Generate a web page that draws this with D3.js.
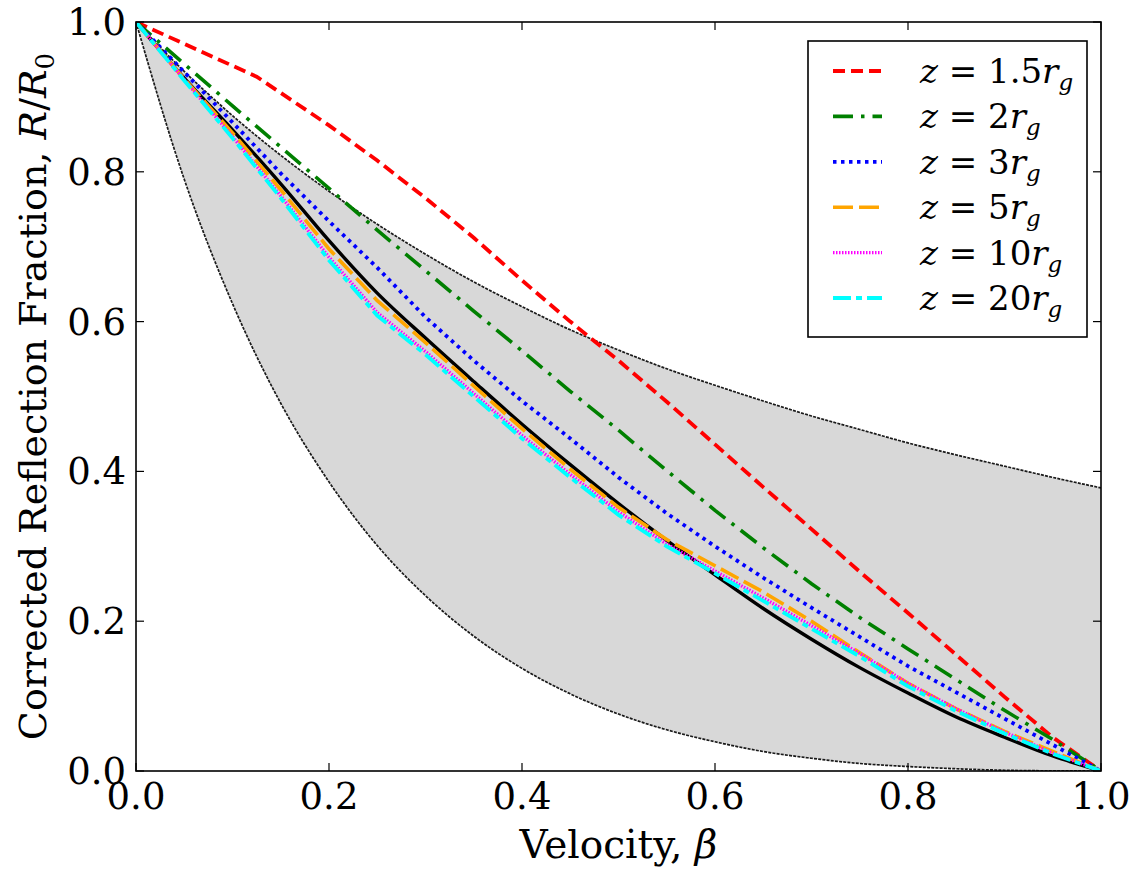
<!DOCTYPE html>
<html>
<head>
<meta charset="utf-8">
<script src="https://cdn.jsdelivr.net/npm/d3@7"></script>
<style>
  body { margin: 0; background: #fff; }
  svg { display: block; }
  text { font-family: "DejaVu Serif", serif; fill: #000; }
</style>
</head>
<body>
<svg id="chart" width="1147" height="871"></svg>
<script>
// ---- data ----
const beta = [0, 0.05, 0.1, 0.15, 0.2, 0.25, 0.3, 0.35, 0.4, 0.45, 0.5, 0.55, 0.6, 0.65, 0.7, 0.75, 0.8, 0.85, 0.9, 0.95, 1.0];

const upperBound = [1.0, 0.934, 0.875, 0.822, 0.774, 0.730, 0.690, 0.653, 0.620, 0.589, 0.562, 0.537, 0.515, 0.494, 0.474, 0.456, 0.438, 0.422, 0.407, 0.392, 0.378];
const lowerBound = [1.0, 0.790, 0.624, 0.491, 0.386, 0.301, 0.234, 0.180, 0.137, 0.103, 0.076, 0.055, 0.039, 0.026, 0.017, 0.010, 0.006, 0.003, 0.001, 0.0002, 0.0];
const blackCurve = [1.0, 0.925, 0.856, 0.784, 0.708, 0.638, 0.578, 0.520, 0.463, 0.409, 0.357, 0.308, 0.262, 0.217, 0.176, 0.138, 0.104, 0.072, 0.045, 0.020, 0.0];

const betaRed = [0, 0.125, 0.2, 0.25, 0.3, 0.35, 0.4, 0.45, 0.5, 0.55, 0.6, 0.65, 0.7, 0.75, 0.8, 0.85, 0.9, 0.95, 1.0];
const zRed    = [1.0, 0.927, 0.862, 0.815, 0.765, 0.712, 0.655, 0.600, 0.548, 0.493, 0.436, 0.379, 0.323, 0.266, 0.211, 0.155, 0.099, 0.045, 0.0];
const zGreen  = [1.0, 0.944, 0.888, 0.833, 0.778, 0.722, 0.668, 0.614, 0.561, 0.507, 0.455, 0.401, 0.348, 0.298, 0.250, 0.205, 0.163, 0.122, 0.081, 0.042, 0.0];
const zBlue   = [1.0, 0.933, 0.866, 0.798, 0.734, 0.672, 0.606, 0.548, 0.494, 0.444, 0.392, 0.344, 0.300, 0.258, 0.218, 0.179, 0.140, 0.105, 0.070, 0.035, 0.0];
const zOrange = [1.0, 0.924, 0.852, 0.776, 0.697, 0.628, 0.572, 0.514, 0.457, 0.403, 0.352, 0.309, 0.274, 0.239, 0.200, 0.158, 0.117, 0.083, 0.053, 0.026, 0.0];
const zMagenta= [1.0, 0.923, 0.847, 0.768, 0.686, 0.612, 0.560, 0.504, 0.448, 0.396, 0.346, 0.303, 0.267, 0.231, 0.194, 0.157, 0.117, 0.083, 0.052, 0.024, 0.0];
const zCyan   = [1.0, 0.922, 0.845, 0.765, 0.682, 0.608, 0.556, 0.500, 0.444, 0.392, 0.342, 0.300, 0.264, 0.227, 0.190, 0.153, 0.113, 0.080, 0.050, 0.023, 0.0];

const seriesNames = ["1.5", "2", "3", "5", "10", "20"];
const xTicks = [0.0, 0.2, 0.4, 0.6, 0.8, 1.0];
const yTicks = [0.0, 0.2, 0.4, 0.6, 0.8, 1.0];

// ---- layout ----
const svg = d3.select("#chart");
const L = 136, R = 1101, T = 22, B = 771;
const x = d3.scaleLinear().domain([0, 1]).range([L, R]);
const y = d3.scaleLinear().domain([0, 1]).range([B, T]);

svg.append("defs").append("clipPath").attr("id", "clip")
  .append("rect").attr("x", L).attr("y", T).attr("width", R - L).attr("height", B - T);

const plot = svg.append("g").attr("clip-path", "url(#clip)");

// shaded band
const bandData = beta.map((b, i) => ({ b, lo: lowerBound[i], hi: upperBound[i] }));
plot.append("path").datum(bandData)
  .attr("d", d3.area().x(d => x(d.b)).y0(d => y(d.lo)).y1(d => y(d.hi)).curve(d3.curveMonotoneX))
  .attr("fill", "#d8d8d8").attr("stroke", "none");

const line = d3.line().x(d => x(d[0])).y(d => y(d[1])).curve(d3.curveMonotoneX);
const linLine = d3.line().x(d => x(d[0])).y(d => y(d[1]));
const zip = (xs, ys) => xs.map((v, i) => [v, ys[i]]);

[upperBound, lowerBound].forEach(arr => {
  plot.append("path").datum(zip(beta, arr)).attr("d", line)
    .attr("fill", "none").attr("stroke", "#1a1a1a").attr("stroke-width", 1.7)
    .attr("stroke-dasharray", "3,1.2");
});

plot.append("path").datum(zip(beta, blackCurve)).attr("d", line)
  .attr("fill", "none").attr("stroke", "#000").attr("stroke-width", 3.4);

const styles = [
  { color: "#ff0000", dash: "12,6", width: 3.8 },
  { color: "#008000", dash: "20,8,3.5,8", width: 3.6 },
  { color: "#0000ff", dash: "3.5,4.5", width: 3.8 },
  { color: "#ffa500", dash: "20,6", width: 3.6 },
  { color: "#ff00ff", dash: "1.5,1.5", width: 3.4 },
  { color: "#00ffff", dash: "18,5,6,5", width: 3.8 }
];
const seriesData = [zip(betaRed, zRed), zip(beta, zGreen), zip(beta, zBlue), zip(beta, zOrange), zip(beta, zMagenta), zip(beta, zCyan)];

seriesData.forEach((d, i) => {
  plot.append("path").datum(d).attr("d", linLine)
    .attr("fill", "none").attr("stroke", styles[i].color)
    .attr("stroke-width", styles[i].width)
    .attr("stroke-dasharray", styles[i].dash)
    .attr("stroke-linecap", "butt");
});

// frame
svg.append("rect").attr("x", L).attr("y", T).attr("width", R - L).attr("height", B - T)
  .attr("fill", "none").attr("stroke", "#000").attr("stroke-width", 1.6);

// ticks (inward, all four sides)
const tl = 8;
const tg = svg.append("g").attr("stroke", "#000").attr("stroke-width", 1.2);
xTicks.forEach(t => {
  tg.append("line").attr("x1", x(t)).attr("x2", x(t)).attr("y1", B).attr("y2", B - tl);
  tg.append("line").attr("x1", x(t)).attr("x2", x(t)).attr("y1", T).attr("y2", T + tl);
});
yTicks.forEach(t => {
  tg.append("line").attr("x1", L).attr("x2", L + tl).attr("y1", y(t)).attr("y2", y(t));
  tg.append("line").attr("x1", R).attr("x2", R - tl).attr("y1", y(t)).attr("y2", y(t));
});

// tick labels
const fs = 37;
xTicks.forEach(t => {
  svg.append("text").attr("x", x(t)).attr("y", B + 38).attr("text-anchor", "middle")
    .attr("font-size", fs).text(d3.format(".1f")(t));
});
yTicks.forEach(t => {
  svg.append("text").attr("x", L - 10).attr("y", y(t) + 13).attr("text-anchor", "end")
    .attr("font-size", fs).text(d3.format(".1f")(t));
});

// axis labels
const xl = svg.append("text").attr("x", (L + R) / 2).attr("y", 858).attr("text-anchor", "middle").attr("font-size", 39);
xl.append("tspan").text("Velocity, ");
xl.append("tspan").attr("font-style", "italic").text("β");

const yl = svg.append("text").attr("transform", `translate(46,${(T + B) / 2}) rotate(-90)`)
  .attr("text-anchor", "middle").attr("font-size", 38);
yl.append("tspan").text("Corrected Reflection Fraction, ");
yl.append("tspan").attr("font-style", "italic").text("R");
yl.append("tspan").text("/");
yl.append("tspan").attr("font-style", "italic").text("R");
yl.append("tspan").attr("font-size", 26).attr("dy", 8).text("0");

// legend
const lg = svg.append("g");
lg.append("rect").attr("x", 808).attr("y", 41).attr("width", 279).attr("height", 296)
  .attr("fill", "#fff").attr("stroke", "#000").attr("stroke-width", 1.6);
const rowY = i => 71 + i * 45.4;
seriesNames.forEach((name, i) => {
  lg.append("line").attr("x1", 833).attr("x2", 882).attr("y1", rowY(i)).attr("y2", rowY(i))
    .attr("stroke", styles[i].color).attr("stroke-width", styles[i].width)
    .attr("stroke-dasharray", styles[i].dash);
  const t = lg.append("text").attr("x", 920).attr("y", rowY(i) + 12).attr("font-size", 34);
  t.append("tspan").attr("font-style", "italic").text("z");
  t.append("tspan").text(" = " + name);
  t.append("tspan").attr("font-style", "italic").text("r");
  t.append("tspan").attr("font-style", "italic").attr("font-size", 23).attr("dy", 7).text("g");
});
</script>
</body>
</html>
